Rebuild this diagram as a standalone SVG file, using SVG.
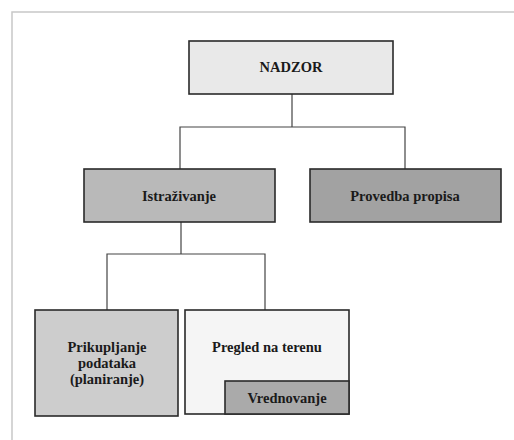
<svg xmlns="http://www.w3.org/2000/svg" width="514" height="440" viewBox="0 0 514 440">
<style>
.box{stroke:#2a2a2a;stroke-width:1.6}
.lbl{font-family:'Liberation Serif','Times New Roman','DejaVu Serif',serif;font-weight:bold;font-size:14.5px;fill:#1a1a1a;text-anchor:middle}
.con{fill:none;stroke:#444;stroke-width:1.2}
</style>
<rect width="514" height="440" fill="#ffffff"/>
<path d="M12 440 V12 H514" fill="none" stroke="#c8c8c8" stroke-width="1.5"/>
<g id="connectors">
<path class="con" d="M292 94 V127 M180 170 V127 H405 V170"/>
<path class="con" d="M181 222 V254 M107 310 V254 H265 V310"/>
</g>
<g id="nadzor">
<rect class="box" x="189" y="41" width="204" height="53" fill="#e9e9e9"/>
<text class="lbl" x="291" y="72">NADZOR</text>
</g>
<g id="istrazivanje">
<rect class="box" x="84" y="169" width="191" height="53" fill="#b9b9b9"/>
<text class="lbl" x="179" y="201">Istraživanje</text>
</g>
<g id="provedba">
<rect class="box" x="310" y="169" width="191" height="53" fill="#a2a2a2"/>
<text class="lbl" x="405" y="201">Provedba propisa</text>
</g>
<g id="prikupljanje">
<rect class="box" x="35" y="310" width="143" height="106" fill="#cdcdcd"/>
<text class="lbl" x="107" y="352">Prikupljanje</text>
<text class="lbl" x="107" y="368">podataka</text>
<text class="lbl" x="107" y="384">(planiranje)</text>
</g>
<g id="pregled">
<rect class="box" x="185" y="310" width="164" height="104" fill="#f5f5f5"/>
<text class="lbl" x="267" y="352">Pregled na terenu</text>
</g>
<g id="vrednovanje">
<rect class="box" x="225" y="381" width="124" height="33" fill="#aaaaaa"/>
<text class="lbl" x="287" y="403">Vrednovanje</text>
</g>
</svg>
